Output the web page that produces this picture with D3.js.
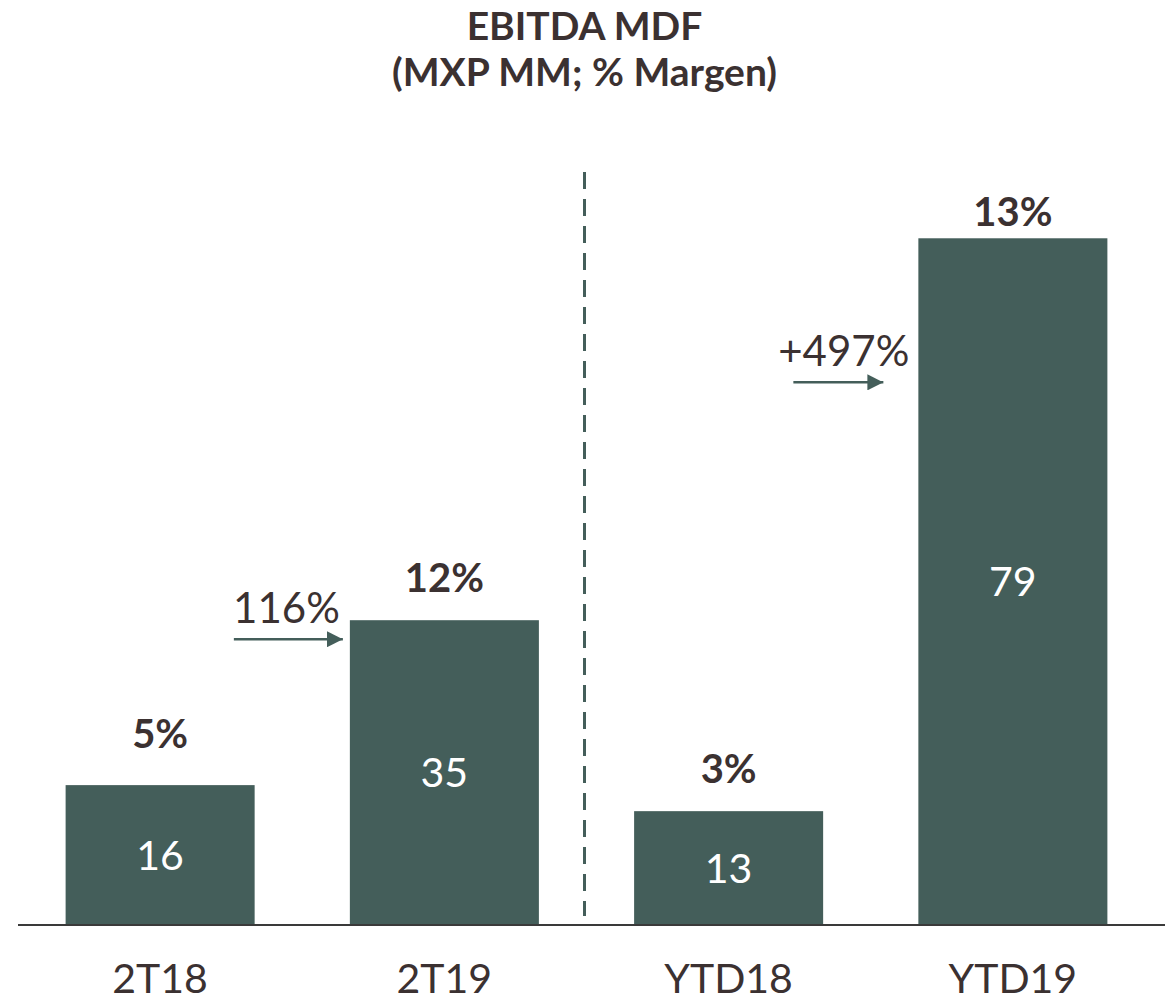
<!DOCTYPE html>
<html>
<head>
<meta charset="utf-8">
<script src="https://cdn.jsdelivr.net/npm/d3@7"></script>
<style>
  body { margin: 0; background: #fff; }
  text { font-family: Lato, "Open Sans", sans-serif; }
</style>
</head>
<body>
<svg id="chart"></svg>
<script>
// Data
const categories = ["2T18", "2T19", "YTD18", "YTD19"];
const ebitda = [16, 35, 13, 79];
const margins = ["5%", "12%", "3%", "13%"];
const growthLabels = ["116%", "+497%"];

// Chart configuration
const W = 1169, H = 1006;
const baseline = 924;
const barColor = "#445e5a";
const textColor = "#3b3131";

const svg = d3.select("#chart").attr("width", W).attr("height", H);

const x = d3.scaleBand()
  .domain(categories)
  .range([18, 1155])
  .paddingInner(0.335)
  .paddingOuter(0.1675);

const y = d3.scaleLinear().domain([0, 100]).range([baseline, baseline - 868]);

// Title
const title = svg.append("text")
  .attr("x", W / 2)
  .attr("text-anchor", "middle")
  .style("font-weight", "bold")
  .style("font-size", "39px")
  .attr("fill", textColor);
title.append("tspan").attr("x", W / 2).attr("y", 40).text("EBITDA MDF");
title.append("tspan").attr("x", W / 2).attr("y", 86).text("(MXP MM; % Margen)");

// Bars
svg.selectAll(".bar")
  .data(categories)
  .join("rect")
  .attr("class", "bar")
  .attr("x", (d) => x(d))
  .attr("y", (d, i) => y(ebitda[i]))
  .attr("width", x.bandwidth())
  .attr("height", (d, i) => baseline - y(ebitda[i]))
  .attr("fill", barColor);

// Values inside bars
svg.selectAll(".val")
  .data(categories)
  .join("text")
  .attr("class", "val")
  .attr("x", (d) => x(d) + x.bandwidth() / 2)
  .attr("y", (d, i) => (y(ebitda[i]) + baseline) / 2 + 15)
  .attr("text-anchor", "middle")
  .attr("fill", "#fff")
  .style("font-size", "41px")
  .text((d, i) => ebitda[i]);

// Margin labels above bars
const labelGap = [37, 28, 28, 12];
svg.selectAll(".margin")
  .data(categories)
  .join("text")
  .attr("class", "margin")
  .attr("x", (d) => x(d) + x.bandwidth() / 2)
  .attr("y", (d, i) => y(ebitda[i]) - labelGap[i])
  .attr("text-anchor", "middle")
  .attr("fill", textColor)
  .style("font-weight", "bold")
  .style("font-size", "40px")
  .text((d, i) => margins[i]);

// Baseline axis
svg.append("line")
  .attr("x1", 18).attr("x2", 1165)
  .attr("y1", baseline + 1).attr("y2", baseline + 1)
  .attr("stroke", "#3a3a3a")
  .attr("stroke-width", 2);

// Category labels
const xAxis = d3.axisBottom(x).tickSize(0).tickPadding(40);
svg.append("g")
  .attr("transform", `translate(0,${baseline})`)
  .call(xAxis)
  .call((g) => g.select(".domain").remove())
  .selectAll("text")
  .attr("fill", textColor)
  .style("font-family", "Lato, sans-serif")
  .style("font-size", "41px");

// Separator between quarter and YTD
const sepX = (x("2T19") + x.bandwidth() + x("YTD18")) / 2 - 2;
svg.append("line")
  .attr("x1", sepX).attr("x2", sepX)
  .attr("y1", 172).attr("y2", 916)
  .attr("stroke", barColor)
  .attr("stroke-width", 3)
  .attr("stroke-dasharray", "17,10");

// Growth arrows
svg.append("defs").append("marker")
  .attr("id", "arrow")
  .attr("viewBox", "0 0 10 10")
  .attr("refX", 10).attr("refY", 5)
  .attr("markerWidth", 16).attr("markerHeight", 16)
  .attr("markerUnits", "userSpaceOnUse")
  .attr("orient", "auto")
  .append("path")
  .attr("d", "M0,0L10,5L0,10Z")
  .attr("fill", barColor);

const growth = [
  { to: "2T19", level: 32.8, len: 113, gap: 3 },
  { to: "YTD19", level: 62.4, len: 94, gap: 31 },
];
growth.forEach((g, i) => {
  const x2 = x(g.to) - g.gap;
  const yy = y(g.level);
  svg.append("line")
    .attr("x1", x2 - g.len).attr("x2", x2 - 4)
    .attr("y1", yy).attr("y2", yy)
    .attr("stroke", barColor)
    .attr("stroke-width", 2.5)
    .attr("marker-end", "url(#arrow)");
  svg.append("text")
    .attr("x", i === 0 ? x2 - 7 : x2 + 22)
    .attr("y", yy - 16)
    .attr("text-anchor", "end")
    .attr("fill", textColor)
    .style("font-size", "42px")
    .text(growthLabels[i]);
});
</script>
</body>
</html>
